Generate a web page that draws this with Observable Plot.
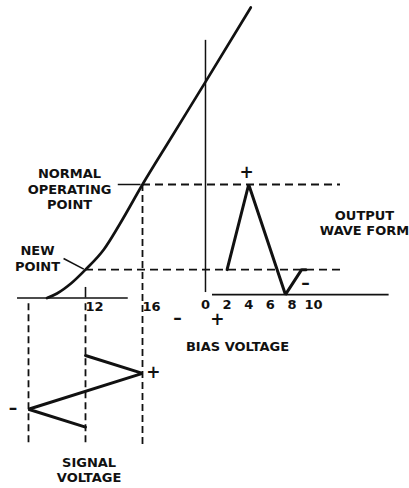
<!DOCTYPE html>
<html>
<head>
<meta charset="utf-8">
<script src="https://cdn.jsdelivr.net/npm/d3@7"></script>
<script src="https://cdn.jsdelivr.net/npm/@observablehq/plot@0.6"></script>
<style>
  html, body { margin: 0; padding: 0; background: #fff; }
  #chart svg { display: block; }
</style>
</head>
<body>
<div id="chart"></div>
<script>
// Tube transfer characteristic: grid bias (volts) against plate current (relative units)
const gridBias     = [9.3, 10.0, 11.0, 12, 13.3, 14.4, 16, 18,   20.4, 23.6];
const plateCurrent = [0,   0.4,  1.3,  2.5, 4.3, 6.5, 10, 14.1, 19,   25.6];

// Operating points on the characteristic
const normalPoint = {bias: 16, current: 10};
const newPoint    = {bias: 12, current: 2.5};

// Bias-voltage ticks under the characteristic
const biasTicks = [12, 16];

// Output wave form: time ticks and the plate current it swings through
const timeTicks     = [0, 2, 4, 6, 8, 10];
const outputTime    = [2, 4, 7.4, 8.9, 9.3];
const outputCurrent = [2.5, 10, 0.3, 2.5, 2.5];

// Signal voltage on the grid, time running downward
const signalTime = [0, 1, 3, 4];
const signalBias = [12, 16, 8, 12];

// ---- layout of the three panels in one coordinate system ----
// output panel: its time axis starts at the vertical axis right of the characteristic
const timeOrigin = 20.42, timeStep = 0.758;
const tx = t => timeOrigin + timeStep * t;
const outputBase = 0.3;               // current level of the output baseline
// signal panel: time runs downward below the bias axis
const sigTop = -5.07, sigStep = -1.577;
const sy = t => sigTop + sigStep * t;
const dashBottom = -13.1;             // lower end of the projection lines

const curve  = gridBias.map((b, i) => ({bias: b, current: plateCurrent[i]}));
const output = outputTime.map((t, i) => ({x: tx(t), current: outputCurrent[i]}));
const signal = signalTime.map((t, i) => ({bias: signalBias[i], y: sy(t)}));

// lettering blocks
const notes = [
  {text: "NORMAL\nOPERATING\nPOINT", x: 10.88, y: 9.62, lh: 1.17},
  {text: "NEW\nPOINT",               x: 8.63,  y: 3.51, lh: 1.18},
  {text: "OUTPUT\nWAVE FORM",        x: 31.58, y: 6.63, lh: 1.18},
  {text: "SIGNAL\nVOLTAGE",          x: 12.25, y: -15.14, lh: 1.17},
  {text: "BIAS VOLTAGE",             x: 22.67, y: -4.3, lh: 1}
];
// polarity marks
const signs = [
  {text: "+", x: 23.3,  y: 11.08},
  {text: "–", x: 27.44, y: 1.28},
  {text: "+", x: 16.77, y: -6.56},
  {text: "–", x: 6.91,  y: -9.76},
  {text: "–", x: 18.46, y: -1.81},
  {text: "+", x: 21.26, y: -1.89}
];

const font = "'DejaVu Sans', 'Liberation Sans', Arial, sans-serif";
const ink = "#111";
const dash = "8,5";

const lettering = notes.map(n =>
  Plot.text([n], {x: "x", y: "y", text: "text", fontSize: 13, fontWeight: "bold",
    fill: ink, lineAnchor: "middle", lineHeight: n.lh}));

const chart = Plot.plot({
  width: 409,
  height: 488,
  margin: 0,
  x: {type: "linear", domain: [12, 16], range: [85, 142], axis: null},
  y: {type: "linear", domain: [0, 10], range: [297.5, 184], axis: null},
  style: {fontFamily: font, background: "#fff", color: ink},
  marks: [
    // bias axis of the characteristic with its tick at 12
    Plot.ruleY([0], {x1: 7.23, x2: 15.0, stroke: ink, strokeWidth: 1.6}),
    Plot.ruleX([12], {y1: 0, y2: 0.93, stroke: ink, strokeWidth: 1.6}),
    Plot.text(biasTicks, {x: d => d, y: 0, dy: 9, dx: 0, text: d => String(d),
      textAnchor: "start", fontSize: 13, fontWeight: "bold", fill: ink}),

    // output panel axes
    Plot.ruleX([tx(0)], {y1: 0.48, y2: 22.7, stroke: ink, strokeWidth: 1.5}),
    Plot.ruleY([outputBase], {x1: tx(0.65), x2: tx(17), stroke: ink, strokeWidth: 1.6}),
    Plot.text(timeTicks, {x: d => tx(d), y: outputBase, dy: 10, text: d => String(d),
      fontSize: 13, fontWeight: "bold", fill: ink}),

    // projections of the operating points
    Plot.ruleY([normalPoint], {y: "current", x1: "bias", x2: tx(12.5),
      stroke: ink, strokeWidth: 1.8, strokeDasharray: dash}),
    Plot.ruleY([newPoint], {y: "current", x1: "bias", x2: tx(12.5),
      stroke: ink, strokeWidth: 1.8, strokeDasharray: dash}),
    Plot.ruleX([normalPoint], {x: "bias", y1: "current", y2: dashBottom,
      stroke: ink, strokeWidth: 1.8, strokeDasharray: "7,4"}),
    Plot.ruleX([newPoint.bias, 8], {x: d => d, y1: -0.5, y2: dashBottom,
      stroke: ink, strokeWidth: 1.8, strokeDasharray: "7,4"}),

    // leaders from the lettering to the points
    Plot.ruleY([normalPoint], {y: "current", x1: 14.3, x2: 15.9, stroke: ink, strokeWidth: 1.5}),
    Plot.link([newPoint], {x1: 10.46, y1: 3.48, x2: d => d.bias - 0.12, y2: d => d.current + 0.05,
      stroke: ink, strokeWidth: 1.5}),

    // transfer characteristic
    Plot.line(curve, {x: "bias", y: "current", curve: "monotone-x",
      stroke: ink, strokeWidth: 2.7}),

    // output wave form
    Plot.line(output, {x: "x", y: "current", stroke: ink, strokeWidth: 3, strokeLinejoin: "miter"}),

    // signal voltage
    Plot.line(signal, {x: "bias", y: "y", stroke: ink, strokeWidth: 3, strokeLinejoin: "miter"}),

    // lettering
    ...lettering,
    Plot.text(signs, {x: "x", y: "y", text: "text", fontSize: 17, fontWeight: "bold",
      fill: ink, lineAnchor: "middle"})
  ]
});

document.getElementById("chart").append(chart);
</script>
</body>
</html>
